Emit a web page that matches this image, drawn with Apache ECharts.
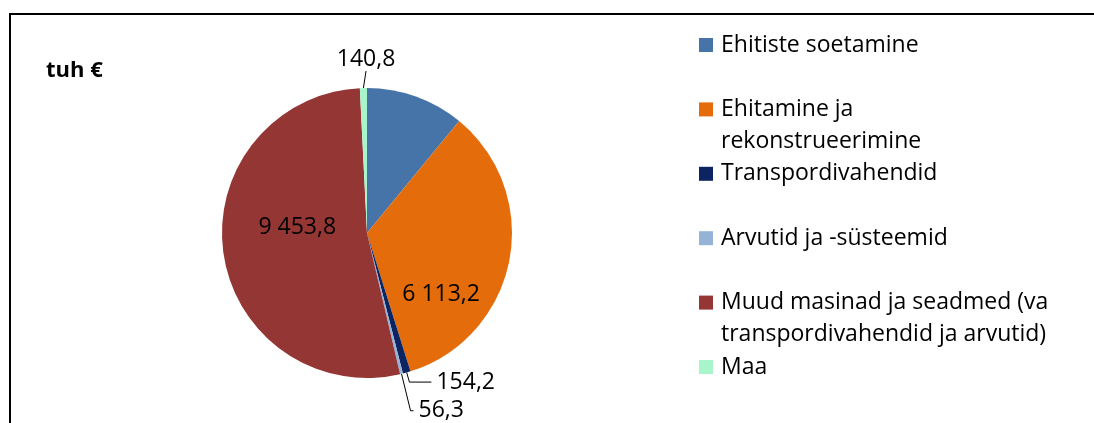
<!DOCTYPE html>
<html>
<head>
<meta charset="utf-8">
<script src="https://cdn.jsdelivr.net/npm/echarts@6/dist/echarts.min.js"></script>
<style>
  html, body { margin: 0; padding: 0; background: #fff; }
  #chart { width: 1094px; height: 423px; }
</style>
</head>
<body>
<div id="chart"></div>
<script>
// andmed
var categories = [
  'Ehitiste soetamine',
  'Ehitamine ja rekonstrueerimine',
  'Transpordivahendid',
  'Arvutid ja -süsteemid',
  'Muud masinad ja seadmed (va transpordivahendid ja arvutid)',
  'Maa'
];
var values = [1960, 6113.2, 154.2, 56.3, 9453.8, 140.8];
var colors = ['#4674A9', '#E46C0A', '#0C2461', '#95B3D7', '#943634', '#A8F5CC'];
// legendi tekst ridadeks
var legendText = [
  ['Ehitiste soetamine'],
  ['Ehitamine ja', 'rekonstrueerimine'],
  ['Transpordivahendid'],
  ['Arvutid ja -süsteemid'],
  ['Muud masinad ja seadmed (va', 'transpordivahendid ja arvutid)'],
  ['Maa']
];

var FONT = '"Open Sans", "Noto Sans", sans-serif';
var LINE = 32;

function fmt(v) {
  var s = v.toFixed(1).split('.');
  return s[0].replace(/\B(?=(\d{3})+(?!\d))/g, ' ') + ',' + s[1];
}

// sildi paigutus iga sektori jaoks
var labelOpts = [
  { show: false },
  { position: 'inside', offset: [0, 47] },
  { position: 'outside', line: [10, 22] },
  { position: 'outside', line: [38, 3] },
  { position: 'inside', offset: [5, -16] },
  { position: 'outside', line: [16, 0] }
];

var pieData = categories.map(function (c, i) {
  var o = labelOpts[i];
  var d = {
    name: c,
    value: values[i],
    itemStyle: { color: colors[i] },
    label: { show: o.show !== false, position: o.position || 'inside', offset: o.offset },
    labelLine: { show: o.position === 'outside' }
  };
  if (o.line) {
    d.labelLine.length = o.line[0];
    d.labelLine.length2 = o.line[1];
  }
  return d;
});

// iga legendi kirje eraldi, et esimesed read oleks ühtlase vahega
var legends = categories.map(function (c, i) {
  var lines = legendText[i];
  var center = 45 + 64.4 * i;
  var extra = lines.length > 1;
  return {
    orient: 'vertical',
    left: 699,
    top: extra ? center - LINE * 1.5 : center - LINE / 2,
    padding: 0,
    icon: 'rect',
    itemWidth: 14,
    itemHeight: 14,
    selectedMode: false,
    data: [c],
    formatter: function () {
      return extra ? '\n' + lines.join('\n') : lines[0];
    },
    textStyle: {
      fontFamily: FONT,
      fontSize: 23,
      color: '#000',
      lineHeight: LINE,
      padding: [0, 0, 0, 3]
    }
  };
});

var chart = echarts.init(document.getElementById('chart'));
chart.setOption({
  animation: false,
  backgroundColor: '#fff',
  legend: legends,
  graphic: [
    { type: 'line', shape: { x1: 9, y1: 14, x2: 1094, y2: 14 }, style: { stroke: '#000', lineWidth: 2 } },
    { type: 'line', shape: { x1: 10, y1: 13, x2: 10, y2: 423 }, style: { stroke: '#000', lineWidth: 2 } },
    { type: 'text', left: 46, top: 60, style: { text: 'tuh €', font: 'bold 22px ' + FONT, fill: '#000' } }
  ],
  series: [
    {
      type: 'pie',
      center: [367, 233],
      radius: 145,
      startAngle: 90,
      clockwise: true,
      avoidLabelOverlap: false,
      itemStyle: { borderWidth: 0 },
      label: {
        fontFamily: FONT,
        fontSize: 23,
        color: '#000',
        formatter: function (p) { return fmt(p.value); }
      },
      labelLine: {
        lineStyle: { color: '#000', width: 1 }
      },
      // Maa silt otse joone kohale
      labelLayout: function (p) {
        if (p.dataIndex !== 5) return;
        var pts = p.labelLinePoints;
        return {
          x: pts[1][0] + 3,
          y: pts[1][1] - 1,
          align: 'center',
          verticalAlign: 'bottom'
        };
      },
      emphasis: { disabled: true },
      data: pieData
    }
  ]
});
</script>
</body>
</html>
